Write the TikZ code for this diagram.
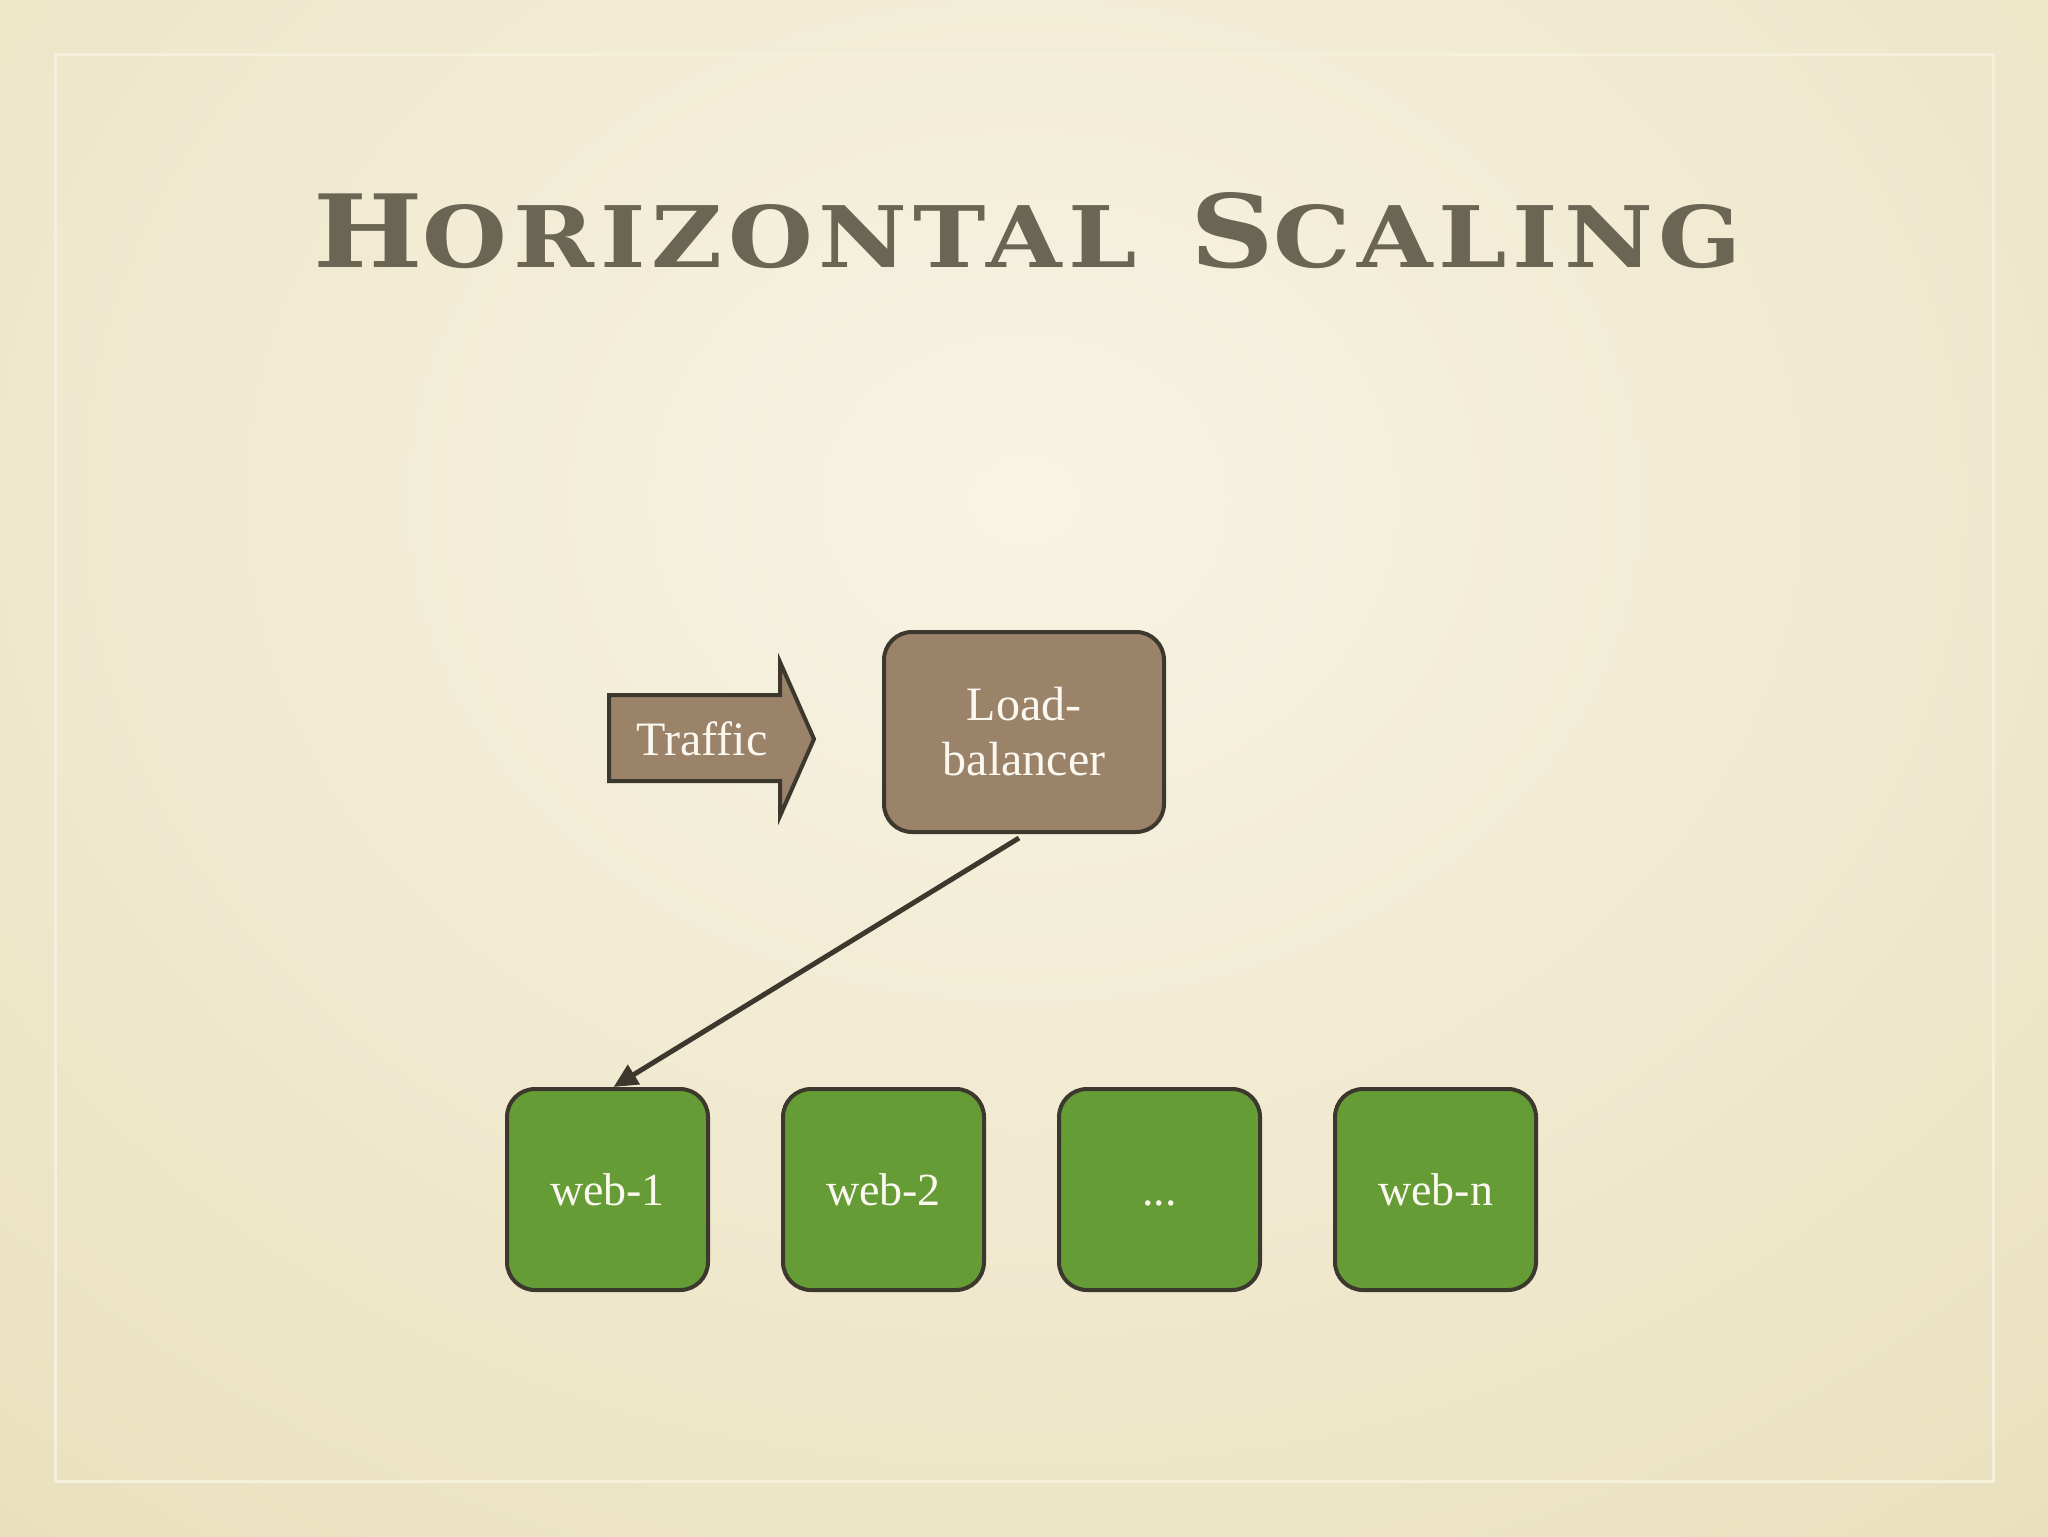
\documentclass[tikz,border=0pt]{standalone}
\usepackage{fontspec}
\setmainfont{Liberation Serif}
\newfontfamily\titlefont[LetterSpace=6]{DejaVu Serif}
\usetikzlibrary{arrows.meta}
\definecolor{bgout}{HTML}{E8DFBC}
\definecolor{bgin}{HTML}{F8F4E4}
\definecolor{framecol}{HTML}{F5F0DC}
\definecolor{titlecol}{HTML}{6B6553}
\definecolor{edgecol}{HTML}{3D382D}
\definecolor{brownfill}{HTML}{9B836A}
\definecolor{greenfill}{HTML}{659C35}
\definecolor{labelcol}{HTML}{FBF8F0}
\tikzset{
  px/.style={x=0.5pt,y=-0.5pt},
  lbbox/.style={draw=edgecol, fill=brownfill, line width=2pt, rounded corners=14pt,
    minimum width=140pt, minimum height=100pt, inner sep=0pt, align=center,
    text=labelcol, font=\fontsize{24}{27.5}\selectfont},
  webbox/.style={draw=edgecol, fill=greenfill, line width=2pt, rounded corners=14pt,
    minimum width=100.5pt, minimum height=100.5pt, inner sep=0pt,
    text height=15.6pt, text depth=0pt,
    text=labelcol, font=\fontsize{23}{27}\selectfont},
  trafficshape/.style={draw=edgecol, fill=brownfill, line width=2pt, miter limit=20},
  labeltext/.style={text=labelcol, inner sep=0pt, font=\fontsize{24}{27}\selectfont},
  conn/.style={draw=edgecol, line width=2.5pt, -{Triangle[length=12pt,width=11pt]}},
}
\begin{document}
\begin{tikzpicture}[px]
\useasboundingbox (0,0) rectangle (2048,1536);
\fill[bgout] (0,0) rectangle (2048,1536);
\shade[inner color=bgin, outer color=bgout] (-700,-900) rectangle (2748,1900);
\draw[framecol, line width=1.5pt] (55,55) rectangle (1993,1481);

\node[anchor=base west, inner sep=0pt, text=titlecol] (title) at (313,267)
  {\resizebox{714pt}{37.5pt}{\titlefont\bfseries\fontsize{10}{12}\selectfont H\fontsize{8.4}{10}\selectfont ORIZONTAL\hspace{0.55em}\fontsize{10}{12}\selectfont S\fontsize{8.4}{10}\selectfont CALING}};

\draw[trafficshape] (609,695) -- (780,695) -- (780,662) -- (814,739) -- (780,816) -- (780,781) -- (609,781) -- cycle;
\node[labeltext] (traffic) at (702,739) {Traffic};

\node[lbbox] (lb) at (1024,732) {Load-\\balancer};

\node[webbox] (w1) at (607.5,1189.5) {web-1};
\node[webbox] (w2) at (883.5,1189.5) {web-2};
\node[webbox] (w3) at (1159.5,1189.5) {...};
\node[webbox] (w4) at (1435.5,1189.5) {web-n};

\draw[conn] ([xshift=-2.5pt,yshift=-2pt]lb.south) -- ([xshift=3pt]w1.north);
\end{tikzpicture}
\end{document}
